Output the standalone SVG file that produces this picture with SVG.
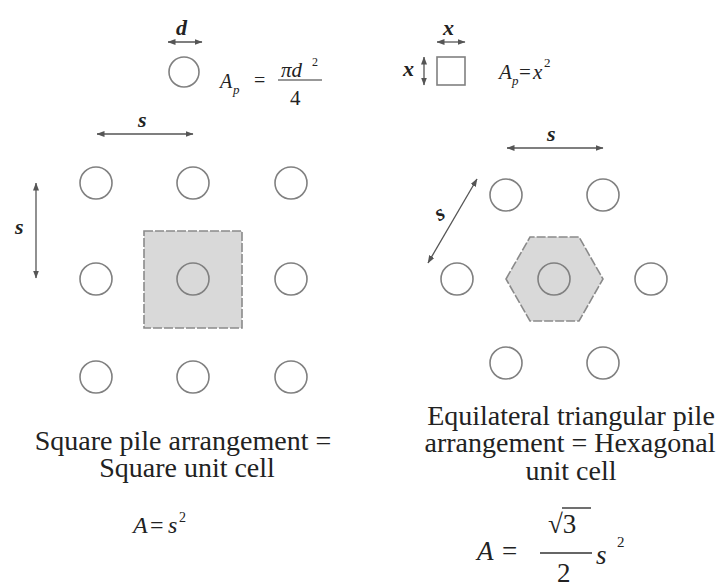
<svg xmlns="http://www.w3.org/2000/svg" width="721" height="587" viewBox="0 0 721 587" font-family="'Liberation Serif', 'Times New Roman', serif">
<defs>
<marker id="ah" viewBox="0 0 8 6" refX="7.5" refY="3" markerWidth="8" markerHeight="6" markerUnits="userSpaceOnUse" orient="auto-start-reverse">
<path d="M0,0 L8,3 L0,6 Z" fill="#555"/>
</marker>
<style>
.pile{fill:none;stroke:#808080;stroke-width:1.6}
.cell{fill:#d9d9d9;stroke:#8a8a8a;stroke-width:1.6;stroke-dasharray:9,2}
.dim{stroke:#555;stroke-width:1.3;fill:none;marker-start:url(#ah);marker-end:url(#ah)}
text{font-family:'Liberation Serif',serif;fill:#222}
.it{font-style:italic}
.lbl{font-style:italic;font-weight:bold;font-size:22px}
.cap{font-size:28px;text-anchor:middle}
</style>
</defs>
<rect width="721" height="587" fill="#fff"/>

<!-- top legend: pile of diameter d -->
<g id="pile-round">
<circle class="pile" cx="184" cy="72" r="15"/>
<text class="it" x="220" y="88" font-size="20">A</text>
<text class="it" x="233" y="94" font-size="13">p</text>
<text x="254" y="87" font-size="20">=</text>
<text class="it" x="281" y="77" font-size="21">πd</text>
<text x="312" y="66" font-size="12">2</text>
<line x1="278" y1="80" x2="322" y2="80" stroke="#333" stroke-width="1.2"/>
<text x="290" y="105" font-size="21">4</text>
</g>
<g id="pile-square">
<rect class="pile" x="437" y="57" width="28" height="28"/>
<text class="it" x="499" y="79" font-size="21">A</text>
<text class="it" x="512" y="85" font-size="13">p</text>
<text x="519" y="79" font-size="21">=</text>
<text class="it" x="533" y="79" font-size="21">x</text>
<text x="544" y="67" font-size="13">2</text>
</g>

<!-- square arrangement -->
<g id="cell-square"><rect class="cell" x="144" y="231" width="98" height="97"/></g>
<g id="sq-p1"><circle class="pile" cx="96" cy="183" r="16"/></g>
<g id="sq-p2"><circle class="pile" cx="193" cy="183" r="16"/></g>
<g id="sq-p3"><circle class="pile" cx="291" cy="183" r="16"/></g>
<g id="sq-p4"><circle class="pile" cx="96" cy="279" r="16"/></g>
<g id="sq-p5"><circle class="pile" cx="193" cy="279" r="16"/></g>
<g id="sq-p6"><circle class="pile" cx="291" cy="279" r="16"/></g>
<g id="sq-p7"><circle class="pile" cx="96" cy="377" r="16"/></g>
<g id="sq-p8"><circle class="pile" cx="193" cy="377" r="16"/></g>
<g id="sq-p9"><circle class="pile" cx="291" cy="377" r="16"/></g>

<!-- hexagonal arrangement -->
<g id="cell-hex"><polygon class="cell" points="506,279 530,237 579,237 603,279 579,321 530,321"/></g>
<g id="hx-p1"><circle class="pile" cx="506" cy="195" r="16"/></g>
<g id="hx-p2"><circle class="pile" cx="603" cy="195" r="16"/></g>
<g id="hx-p3"><circle class="pile" cx="457" cy="279" r="16"/></g>
<g id="hx-p4"><circle class="pile" cx="554" cy="279" r="16"/></g>
<g id="hx-p5"><circle class="pile" cx="651" cy="279" r="16"/></g>
<g id="hx-p6"><circle class="pile" cx="506" cy="363" r="16"/></g>
<g id="hx-p7"><circle class="pile" cx="603" cy="363" r="16"/></g>

<!-- dimension connectors -->
<g id="connectors">
<line class="dim" x1="168" y1="42" x2="202" y2="42"/>
<line class="dim" x1="437" y1="42" x2="465" y2="42"/>
<line class="dim" x1="424" y1="57" x2="424" y2="85"/>
<line class="dim" x1="97" y1="134" x2="193" y2="134"/>
<line class="dim" x1="36" y1="183" x2="36" y2="278"/>
<line class="dim" x1="507" y1="148" x2="603" y2="148"/>
<line class="dim" x1="477" y1="179" x2="428" y2="263"/>
</g>

<!-- dimension labels -->
<g id="labels">
<text class="lbl" x="176" y="35">d</text>
<text class="lbl" x="443" y="35" font-weight="normal">x</text>
<text class="lbl" x="403" y="76" font-weight="normal">x</text>
<text class="lbl" x="138" y="127">s</text>
<text class="lbl" x="15" y="234">s</text>
<text class="lbl" x="547" y="141">s</text>
<text class="lbl" x="440" y="220" text-anchor="middle" transform="rotate(-30 440 214)">s</text>
</g>

<!-- captions -->
<g id="caption-square">
<text class="cap" x="183" y="450">Square pile arrangement =<tspan x="187" dy="27">Square unit cell</tspan></text>
<text class="it" x="133" y="533" font-size="24">A</text>
<text x="150" y="533" font-size="24">=</text>
<text class="it" x="168" y="533" font-size="24">s</text>
<text x="179" y="522" font-size="14">2</text>
</g>
<g id="caption-hex">
<text class="cap" x="571" y="425">Equilateral triangular pile<tspan x="570" dy="27">arrangement = Hexagonal</tspan><tspan x="571" dy="28">unit cell</tspan></text>
<text class="it" x="477" y="560" font-size="27">A</text>
<text x="502" y="560" font-size="27">=</text>
<text x="548" y="533" font-size="27">√3</text>
<line x1="562" y1="508" x2="591" y2="508" stroke="#222" stroke-width="1.3"/>
<line x1="540" y1="553" x2="592" y2="553" stroke="#333" stroke-width="1.3"/>
<text x="557" y="582" font-size="27">2</text>
<text class="it" x="596" y="564" font-size="27">s</text>
<text x="617" y="547" font-size="15">2</text>
</g>
</svg>
